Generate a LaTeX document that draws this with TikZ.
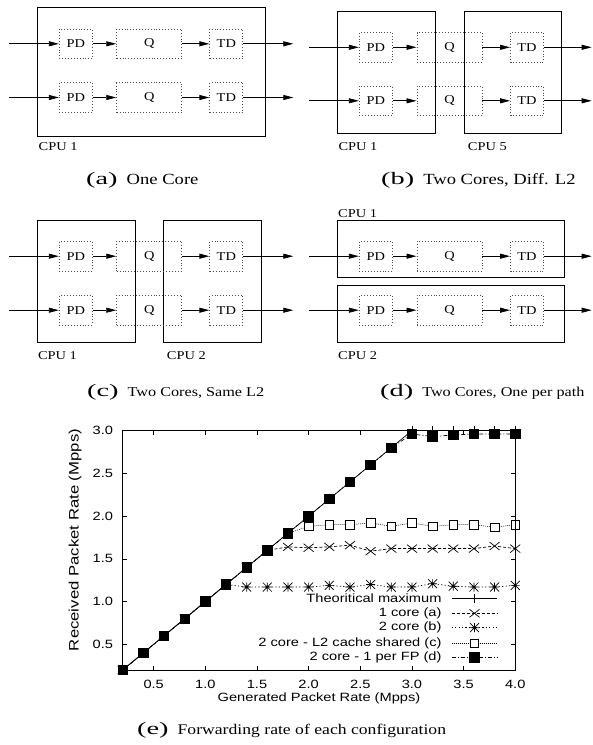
\documentclass[tikz,border=0pt]{standalone}
\usepackage{fontspec}
\setmainfont{Liberation Serif}[FakeStretch=1.2]
\newfontfamily\plotfont{Liberation Sans}[FakeStretch=1.22]
\usetikzlibrary{arrows.meta,plotmarks}
\pgfdeclareplotmark{gpx}{%
  \pgfpathmoveto{\pgfqpoint{-\pgfplotmarksize}{-0.8\pgfplotmarksize}}%
  \pgfpathlineto{\pgfqpoint{\pgfplotmarksize}{0.8\pgfplotmarksize}}%
  \pgfpathmoveto{\pgfqpoint{-\pgfplotmarksize}{0.8\pgfplotmarksize}}%
  \pgfpathlineto{\pgfqpoint{\pgfplotmarksize}{-0.8\pgfplotmarksize}}%
  \pgfusepathqstroke}
\pgfdeclareplotmark{gpplus}{%
  \pgfpathmoveto{\pgfqpoint{-\pgfplotmarksize}{0pt}}%
  \pgfpathlineto{\pgfqpoint{\pgfplotmarksize}{0pt}}%
  \pgfpathmoveto{\pgfqpoint{0pt}{-\pgfplotmarksize}}%
  \pgfpathlineto{\pgfqpoint{0pt}{\pgfplotmarksize}}%
  \pgfusepathqstroke}
\pgfdeclareplotmark{gpstar}{%
  \pgfpathmoveto{\pgfqpoint{-\pgfplotmarksize}{-\pgfplotmarksize}}%
  \pgfpathlineto{\pgfqpoint{\pgfplotmarksize}{\pgfplotmarksize}}%
  \pgfpathmoveto{\pgfqpoint{-\pgfplotmarksize}{\pgfplotmarksize}}%
  \pgfpathlineto{\pgfqpoint{\pgfplotmarksize}{-\pgfplotmarksize}}%
  \pgfpathmoveto{\pgfqpoint{-\pgfplotmarksize}{0pt}}%
  \pgfpathlineto{\pgfqpoint{\pgfplotmarksize}{0pt}}%
  \pgfpathmoveto{\pgfqpoint{0pt}{-\pgfplotmarksize}}%
  \pgfpathlineto{\pgfqpoint{0pt}{\pgfplotmarksize}}%
  \pgfusepathqstroke}
\pgfdeclareplotmark{gpsq}{%
  \pgfpathrectangle{\pgfqpoint{-\pgfplotmarksize}{-\pgfplotmarksize}}{\pgfqpoint{2\pgfplotmarksize}{2\pgfplotmarksize}}%
  \pgfsetfillcolor{white}\pgfusepathqfillstroke}
\pgfdeclareplotmark{gpsqf}{%
  \pgfpathrectangle{\pgfqpoint{-\pgfplotmarksize}{-\pgfplotmarksize}}{\pgfqpoint{2\pgfplotmarksize}{2\pgfplotmarksize}}%
  \pgfsetfillcolor{black}\pgfusepathqfillstroke}
\tikzset{
  lbl/.style={font=\fontsize{12}{14}\selectfont, inner sep=0pt},
  caplbl/.style={inner sep=0pt, anchor=west},
  cpubox/.style={draw, line width=0.9pt, inner sep=0pt},
  stage/.style={draw=black!70, dotted, line width=0.9pt, inner sep=0pt, minimum height=29.5pt, font=\fontsize{12}{14}\selectfont},
  sm/.style={stage, minimum width=33pt},
  qbox/.style={stage, minimum width=65pt},
  flow/.style={-{Triangle[length=10pt,width=5pt]}, line width=0.8pt},
  pl/.style={font=\plotfont\fontsize{12}{14}\selectfont, inner sep=0pt},
  theo/.style={line width=0.7pt},
  sera/.style={line width=0.7pt, dash pattern=on 3pt off 2pt},
  serb/.style={line width=0.7pt, dash pattern=on 1.2pt off 2.2pt},
  serc/.style={line width=0.5pt, dash pattern=on 1pt off 1pt},
  serd/.style={line width=0.7pt, dash pattern=on 4pt off 2pt on 1pt off 2pt},
  mk/.style={line width=0.7pt, solid}
}
% #1 = size of the text, #2 = label, #3 = text
\newcommand{\capt}[3]{{\fontsize{17.5}{18}\selectfont\scalebox{1.35}[1]{#2}}\hspace{9pt}{\fontsize{#1}{18}\selectfont #3}}
\begin{document}
\begin{tikzpicture}[x=1pt,y=-1pt]
\useasboundingbox (0,0) rectangle (593,745);

% ---------------- (a) One Core ----------------
\node[cpubox, minimum width=227.7pt, minimum height=129.4pt] (cpuA) at (151.15,72) {};
\node[lbl, anchor=west] (cpuAl) at (38.5,147) {CPU 1};
\foreach \r/\yy in {1/43.8, 2/97.5} {
  \node[sm] (aPD\r) at (75.8,\yy) {PD};
  \node[qbox] (aQ\r) at (149.2,\yy) {Q};
  \node[sm] (aTD\r) at (226.3,\yy) {TD};
  \coordinate (aIn\r) at (9.3,\yy);
  \coordinate (aOut\r) at (293.3,\yy);
  \draw[flow] (aIn\r) -- (aPD\r);
  \draw[flow] (aPD\r) -- (aQ\r);
  \draw[flow] (aQ\r) -- (aTD\r);
  \draw[flow] (aTD\r) -- (aOut\r);
}
\node[caplbl] (capA) at (86,180) {\capt{15.5}{(a)}{One Core}};

% ---------------- (b) Two Cores, Diff. L2 ----------------
\node[cpubox, minimum width=97.3pt, minimum height=121.6pt] (cpuB1) at (386.35,72.5) {};
\node[cpubox, minimum width=97pt, minimum height=121.6pt] (cpuB5) at (512.5,72.5) {};
\node[lbl, anchor=west] (cpuB1l) at (338.3,147) {CPU 1};
\node[lbl, anchor=west] (cpuB5l) at (467.7,147) {CPU 5};
\foreach \r/\yy in {1/47.3, 2/100.8} {
  \node[sm] (bPD\r) at (375.8,\yy) {PD};
  \node[qbox] (bQ\r) at (449.5,\yy) {Q};
  \node[sm] (bTD\r) at (527,\yy) {TD};
  \coordinate (bIn\r) at (309,\yy);
  \coordinate (bOut\r) at (591.7,\yy);
  \draw[flow] (bIn\r) -- (bPD\r);
  \draw[flow] (bPD\r) -- (bQ\r);
  \draw[flow] (bQ\r) -- (bTD\r);
  \draw[flow] (bTD\r) -- (bOut\r);
}
\node[caplbl] (capB) at (381,180) {\capt{15.5}{(b)}{Two Cores, Diff. L2}};

% ---------------- (c) Two Cores, Same L2 ----------------
\node[cpubox, minimum width=97.7pt, minimum height=122.3pt] (cpuC1) at (86.15,281.15) {};
\node[cpubox, minimum width=97.7pt, minimum height=122.3pt] (cpuC2) at (212.15,281.15) {};
\node[lbl, anchor=west] (cpuC1l) at (37.8,356) {CPU 1};
\node[lbl, anchor=west] (cpuC2l) at (166.7,356) {CPU 2};
\foreach \r/\yy in {1/256.2, 2/310.2} {
  \node[sm] (cPD\r) at (75.8,\yy) {PD};
  \node[qbox] (cQ\r) at (149.2,\yy) {Q};
  \node[sm] (cTD\r) at (226.3,\yy) {TD};
  \coordinate (cIn\r) at (9.3,\yy);
  \coordinate (cOut\r) at (293.3,\yy);
  \draw[flow] (cIn\r) -- (cPD\r);
  \draw[flow] (cPD\r) -- (cQ\r);
  \draw[flow] (cQ\r) -- (cTD\r);
  \draw[flow] (cTD\r) -- (cOut\r);
}
\node[caplbl] (capC) at (87,392) {\capt{13.5}{(c)}{Two Cores, Same L2}};

% ---------------- (d) Two Cores, One per path ----------------
\node[cpubox, minimum width=226.6pt, minimum height=57pt] (cpuD1) at (451,249.2) {};
\node[cpubox, minimum width=226.6pt, minimum height=57pt] (cpuD2) at (451,314.2) {};
\node[lbl, anchor=west] (cpuD1l) at (338,213.5) {CPU 1};
\node[lbl, anchor=west] (cpuD2l) at (338,356) {CPU 2};
\foreach \r/\yy in {1/256.2, 2/310.2} {
  \node[sm] (dPD\r) at (375.8,\yy) {PD};
  \node[qbox] (dQ\r) at (449.5,\yy) {Q};
  \node[sm] (dTD\r) at (527,\yy) {TD};
  \coordinate (dIn\r) at (309,\yy);
  \coordinate (dOut\r) at (591.7,\yy);
  \draw[flow] (dIn\r) -- (dPD\r);
  \draw[flow] (dPD\r) -- (dQ\r);
  \draw[flow] (dQ\r) -- (dTD\r);
  \draw[flow] (dTD\r) -- (dOut\r);
}
\node[caplbl] (capD) at (380,392) {\capt{13.5}{(d)}{Two Cores, One per path}};

% ---------------- (e) plot ----------------
\begin{scope}[shift={(102.04,687.1)}, x=103.3pt, y=85.5pt]
  \foreach \xv/\xl in {0.5/0.5,1.0/1.0,1.5/1.5,2.0/2.0,2.5/2.5,3.0/3.0,3.5/3.5,4.0/4.0} {
    \draw[line width=0.6pt] (\xv,0.2) -- ++(0,4.3pt);
    \draw[line width=0.6pt] (\xv,3.0) -- ++(0,-4.3pt);
    \node[pl] at ([yshift=-14.7pt]\xv,0.2) {\xl};
  }
  \foreach \yv/\yl in {0.5/0.5,1.0/1.0,1.5/1.5,2.0/2.0,2.5/2.5,3.0/3.0} {
    \draw[line width=0.6pt] (0.2,\yv) -- ++(4.3pt,0);
    \draw[line width=0.6pt] (4.0,\yv) -- ++(-4.3pt,0);
    \node[pl, anchor=east] at ([xshift=-9.4pt]0.2,\yv) {\yl};
  }
  % theoretical
  \draw[theo] plot[mark=gpplus, mark size=4.5pt, mark options={mk}] coordinates {
    (0.2,0.2) (0.4,0.4) (0.6,0.6) (0.8,0.8) (1.0,1.0) (1.2,1.2) (1.4,1.4) (1.6,1.6) (1.8,1.8) (2.0,2.0)
    (2.2,2.2) (2.4,2.4) (2.6,2.6) (2.8,2.8) (3.0,3.0) (3.2,3.0) (3.4,3.0) (3.6,3.0) (3.8,3.0) (4.0,3.0)};
  % 1 core (a)
  \draw[sera] plot[mark=gpx, mark size=5pt, mark options={mk}] coordinates {
    (0.2,0.2) (0.4,0.4) (0.6,0.6) (0.8,0.8) (1.0,1.0) (1.2,1.2) (1.4,1.4) (1.6,1.6) (1.8,1.64) (2.0,1.63)
    (2.2,1.64) (2.4,1.66) (2.6,1.59) (2.8,1.62) (3.0,1.62) (3.2,1.62) (3.4,1.62) (3.6,1.62) (3.8,1.65) (4.0,1.62)};
  % 2 core (b)
  \draw[serb] plot[mark=gpstar, mark size=4.5pt, mark options={mk}] coordinates {
    (0.2,0.2) (0.4,0.4) (0.6,0.6) (0.8,0.8) (1.0,1.0) (1.2,1.2) (1.4,1.17) (1.6,1.17) (1.8,1.17) (2.0,1.17)
    (2.2,1.19) (2.4,1.17) (2.6,1.2) (2.8,1.17) (3.0,1.17) (3.2,1.21) (3.4,1.18) (3.6,1.17) (3.8,1.17) (4.0,1.19)};
  % 2 core L2 shared (c)
  \draw[serc] plot[mark=gpsq, mark size=4.3pt, mark options={mk}] coordinates {
    (0.2,0.2) (0.4,0.4) (0.6,0.6) (0.8,0.8) (1.0,1.0) (1.2,1.2) (1.4,1.4) (1.6,1.6) (1.8,1.8) (2.0,1.88)
    (2.2,1.90) (2.4,1.90) (2.6,1.92) (2.8,1.88) (3.0,1.92) (3.2,1.88) (3.4,1.90) (3.6,1.90) (3.8,1.87) (4.0,1.90)};
  % 2 core 1 per FP (d)
  \draw[serd] plot[mark=gpsqf, mark size=4.8pt, mark options={mk}] coordinates {
    (0.2,0.2) (0.4,0.4) (0.6,0.6) (0.8,0.8) (1.0,1.0) (1.2,1.2) (1.4,1.4) (1.6,1.6) (1.8,1.8) (2.0,2.0)
    (2.2,2.2) (2.4,2.4) (2.6,2.6) (2.8,2.8) (3.0,2.96) (3.2,2.93) (3.4,2.95) (3.6,2.96) (3.8,2.96) (4.0,2.96)};
  \draw[line width=1pt] (0.2,0.2) rectangle (4.0,3.0);
\end{scope}
% legend
\foreach \t/\yy/\st/\mkn/\ms in {Theoritical maximum/598.3/theo/gpplus/4.5pt,
  1 core (a)/613.3/sera/gpx/5pt, 2 core (b)/627.7/serb/gpstar/4.5pt,
  2 core - L2 cache shared (c)/643.3/serc/gpsq/4.3pt, 2 core - 1 per FP (d)/657.3/serd/gpsqf/4.8pt} {
  \node[pl, anchor=east] at (441.7,\yy) {\t};
  \draw[\st] (451.7,\yy) -- (497.3,\yy);
  \path plot[only marks, mark=\mkn, mark size=\ms, mark options={mk}] coordinates {(474.5,\yy)};
}
\node[pl] (xlab) at (319,698) {Generated Packet Rate (Mpps)};
\node[pl, font=\plotfont\fontsize{13.7}{15}\selectfont, rotate=90] (ylab) at (75,540) {Received Packet Rate (Mpps)};
\node[caplbl] (capE) at (137,730) {\capt{14.7}{(e)}{Forwarding rate of each configuration}};
\end{tikzpicture}
\end{document}
